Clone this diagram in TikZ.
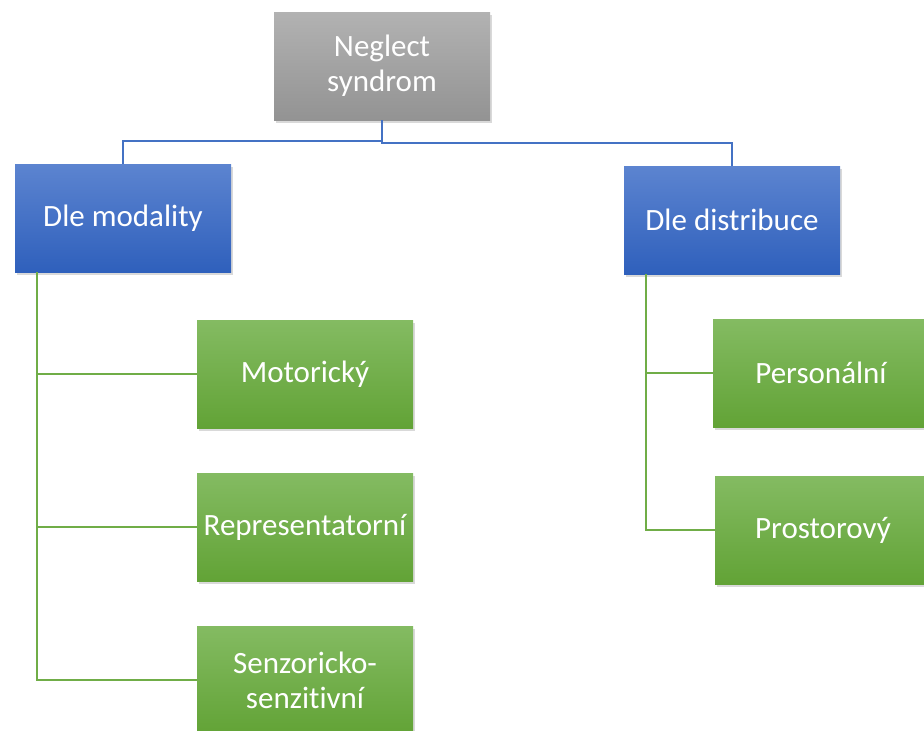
\documentclass[tikz,border=0pt]{standalone}
\usepackage{fontspec}
\setmainfont{Carlito}[Ligatures={NoCommon, NoRare, NoContextual}]
\usepackage{xcolor}
\usepackage{tikz}
\usetikzlibrary{shadows, positioning, calc}

\definecolor{grayTop}{HTML}{B2B2B2}
\definecolor{grayBot}{HTML}{939393}
\definecolor{blueTop}{HTML}{5C84D0}
\definecolor{blueBot}{HTML}{2F60BC}
\definecolor{greenTop}{HTML}{84BB62}
\definecolor{greenBot}{HTML}{62A336}
\definecolor{blueLine}{HTML}{4472C4}
\definecolor{greenLine}{HTML}{70AD47}

\tikzset{
	box/.style={rectangle, minimum width=216pt, minimum height=108pt, inner sep=2pt,
		text=white, align=center, font=\fontsize{31}{35}\selectfont,
		drop shadow={shadow xshift=2pt, shadow yshift=-3pt, opacity=0.3}},
	rootbox/.style={box, top color=grayTop, bottom color=grayBot},
	catbox/.style={box, top color=blueTop, bottom color=blueBot},
	leafbox/.style={box, top color=greenTop, bottom color=greenBot},
	blueline/.style={draw=blueLine, line width=2pt},
	greenline/.style={draw=greenLine, line width=2pt}
}

\begin{document}
\begin{tikzpicture}[x=1pt, y=-1pt]
				% Frame:
				\useasboundingbox (0, 0) rectangle (924, 731);
				\clip (0, 0) rectangle (924, 731);
				
				% Boxes:
				\node[rootbox] (root) at (382, 66) {Neglect\\syndrom};
				\node[catbox] (mod) at (123, 218) {Dle modality};
				\node[catbox] (dist) at (732, 220) {Dle distribuce};
				
				\node[leafbox] (mot) at (305, 374) {Motorický};
				\node[leafbox] (rep) at (305, 527) {Representatorní};
				\node[leafbox] (sen) at (305, 680) {Senzoricko-\\senzitivní};
				
				\node[leafbox] (pers) at (821, 373) {Personální};
				\node[leafbox] (pros) at (823, 530) {Prostorový};
				
				% Wires:
				\draw[blueline] (root.south) -- ++(0, 21) -| (mod.north);
				\draw[blueline] (root.south) -- ++(0, 23) -| (dist.north);
				
				\coordinate (modtrunk) at ([xshift=22pt]mod.south west);
				\draw[greenline] (modtrunk) |- (sen.west);
				\draw[greenline] (modtrunk |- mot.west) -- (mot.west);
				\draw[greenline] (modtrunk |- rep.west) -- (rep.west);
				
				\coordinate (disttrunk) at ([xshift=22pt]dist.south west);
				\draw[greenline] (disttrunk) |- (pros.west);
				\draw[greenline] (disttrunk |- pers.west) -- (pers.west);
			\end{tikzpicture}
\end{document}
